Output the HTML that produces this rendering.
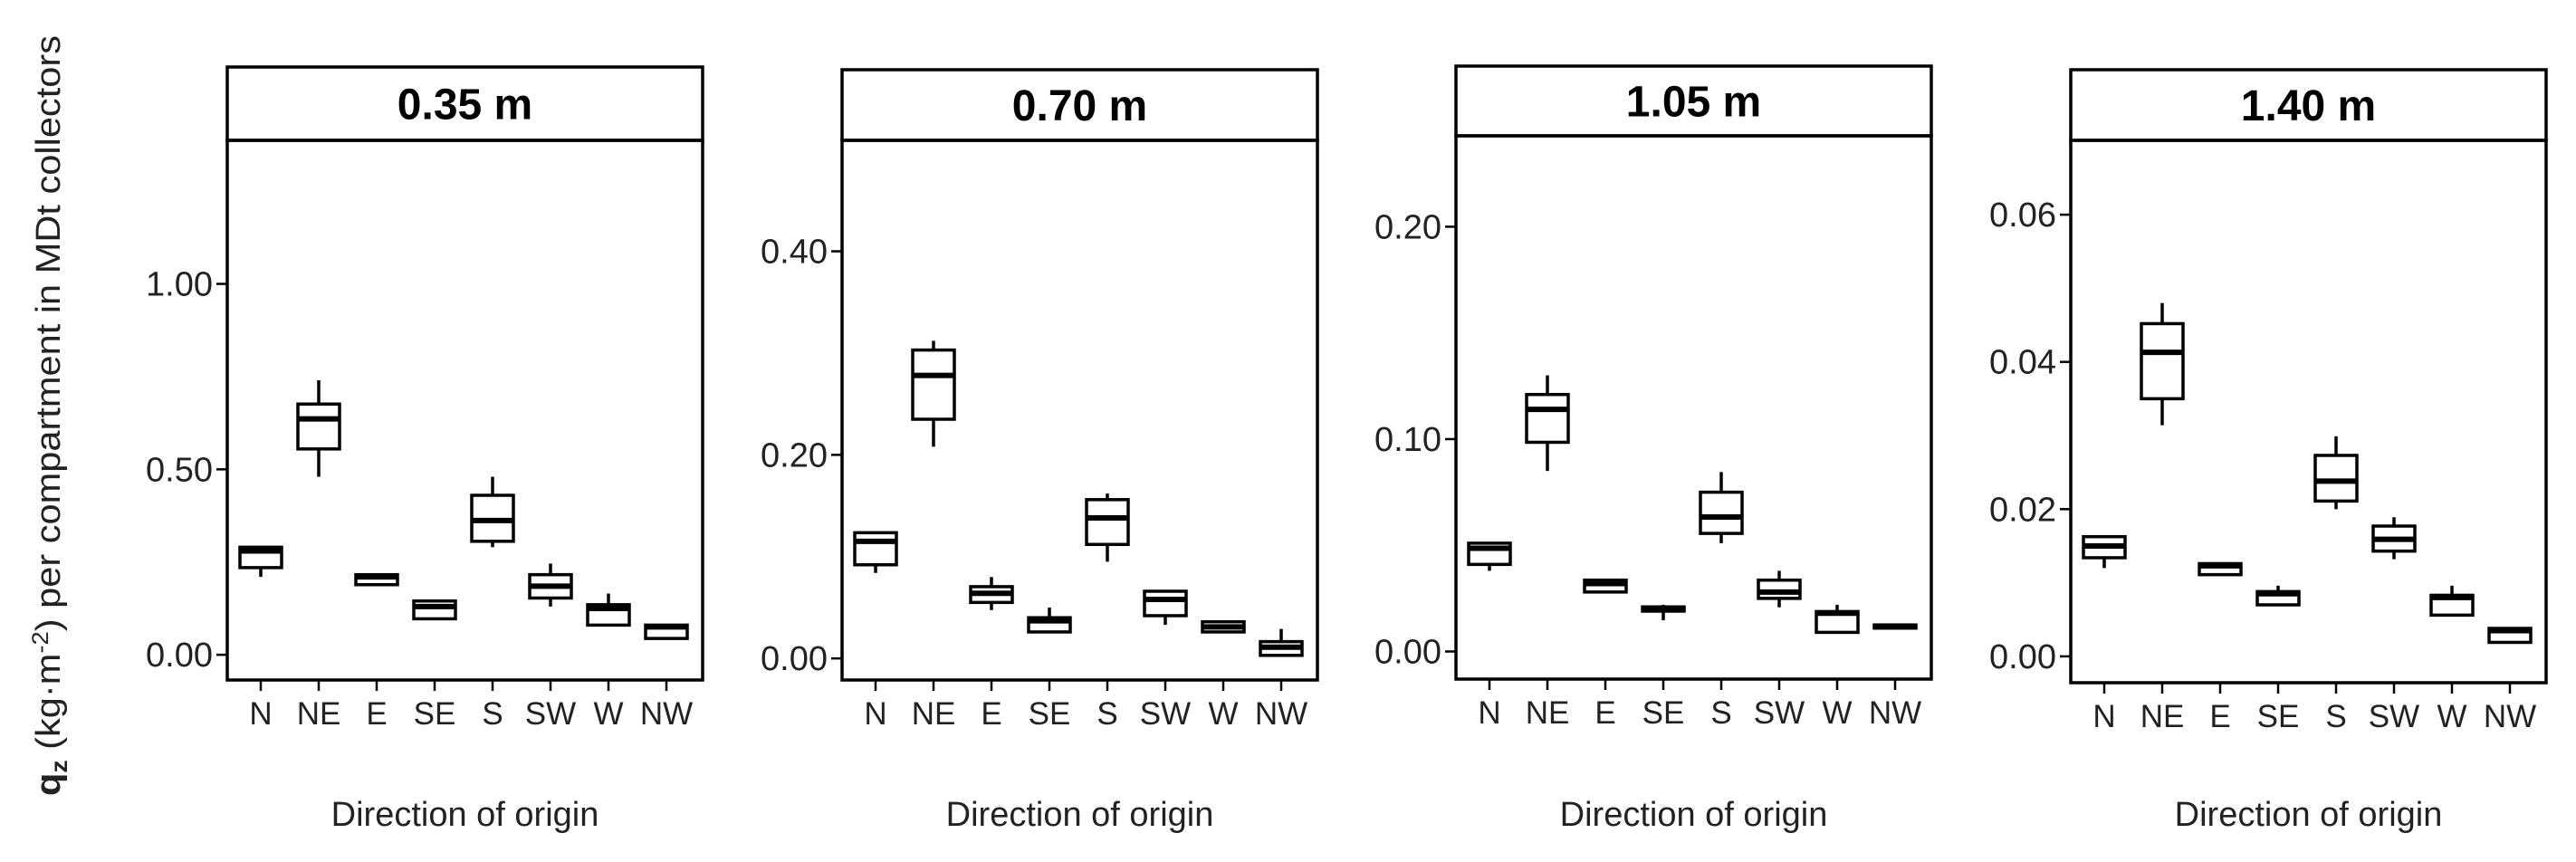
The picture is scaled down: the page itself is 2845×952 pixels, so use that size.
<!DOCTYPE html>
<html><head><meta charset="utf-8">
<style>
html,body{margin:0;padding:0;background:#fff;}
svg{display:block;font-family:"Liberation Sans","DejaVu Sans",sans-serif;}
</style></head>
<body>
<svg id="chart" width="2845" height="952" viewBox="0 0 2845 952" xmlns="http://www.w3.org/2000/svg">
<text transform="translate(66,459) rotate(-90)" text-anchor="middle" font-size="38" fill="#222" textLength="840" lengthAdjust="spacingAndGlyphs"><tspan font-weight="bold">q</tspan><tspan font-weight="bold" font-size="26" dy="8">z</tspan><tspan dy="-8"> (kg·m</tspan><tspan font-size="25" dy="-13">-2</tspan><tspan dy="13">) per compartment in MDt collectors</tspan></text>
</svg>
<script>
const categories = ["N","NE","E","SE","S","SW","W","NW"];
const panelTitles = ["0.35 m","0.70 m","1.05 m","1.40 m"];
const yDomains = [[-0.068,1.387],[-0.0212,0.509],[-0.013,0.2428],[-0.00358,0.0701]];
const tickValues = [[0,0.5,1.0],[0,0.2,0.4],[0,0.1,0.2],[0,0.02,0.04,0.06]];
const tickLabels = [["0.00","0.50","1.00"],["0.00","0.20","0.40"],["0.00","0.10","0.20"],["0.00","0.02","0.04","0.06"]];
// each box: [whiskerLow, q1, median, q3, whiskerHigh]
const data035 = [[0.21,0.235,0.28,0.29,0.29],[0.48,0.555,0.636,0.676,0.74],[0.189,0.189,0.21,0.216,0.216],[0.097,0.097,0.13,0.145,0.145],[0.29,0.306,0.362,0.43,0.48],[0.13,0.153,0.185,0.216,0.246],[0.08,0.08,0.125,0.135,0.165],[0.044,0.044,0.075,0.08,0.08]];
const data070 = [[0.084,0.092,0.115,0.1235,0.1235],[0.208,0.235,0.278,0.303,0.312],[0.0475,0.055,0.064,0.0705,0.08],[0.026,0.026,0.037,0.04,0.05],[0.095,0.112,0.138,0.156,0.162],[0.033,0.042,0.058,0.066,0.066],[0.026,0.026,0.031,0.036,0.036],[0.003,0.003,0.011,0.0165,0.029]];
const data105 = [[0.038,0.041,0.0486,0.051,0.051],[0.085,0.0985,0.114,0.121,0.130],[0.028,0.028,0.032,0.0336,0.0336],[0.0147,0.019,0.020,0.021,0.022],[0.051,0.0556,0.0633,0.075,0.0845],[0.0208,0.025,0.028,0.0336,0.038],[0.009,0.009,0.018,0.0188,0.022],[0.011,0.011,0.0116,0.0125,0.0125]];
const data140 = [[0.012,0.0134,0.0150,0.01626,0.01626],[0.0314,0.035,0.0413,0.0452,0.048],[0.0111,0.0111,0.0123,0.0126,0.0126],[0.007,0.007,0.0085,0.0088,0.0096],[0.020,0.0211,0.0238,0.0273,0.0299],[0.0132,0.0143,0.0159,0.0177,0.0189],[0.0056,0.0056,0.0080,0.0083,0.0096],[0.0019,0.0019,0.0035,0.0038,0.0038]];
const seriesData = [data035,data070,data105,data140];

const NS="http://www.w3.org/2000/svg";
const svg=document.getElementById('chart');
const layout=[{l:251,t:74,h:155,b:751},{l:930,t:77,h:155,b:751},{l:1608,t:73,h:150,b:750},{l:2287,t:77,h:155,b:754}];
const PW=525;
function mk(tag,attrs,parent){const e=document.createElementNS(NS,tag);for(const k in attrs)e.setAttribute(k,attrs[k]);(parent||svg).appendChild(e);return e;}

layout.forEach((L,p)=>{
  const g=mk('g',{});
  
  
  const [d0,d1]=yDomains[p];
  const y=v=>L.b-(v-d0)/(d1-d0)*(L.b-L.h);
  const x=i=>L.l+37+i*64;
  const hdr=mk('rect',{x:L.l,y:L.t,width:PW,height:L.h-L.t,fill:'#fff',stroke:'#000','stroke-width':3.5},g);
  
  
  const tt=mk('text',{x:L.l+PW/2,y:(L.t+L.h)/2+17,'text-anchor':'middle','font-size':48,'font-weight':'bold',fill:'#000'},g);
  tt.textContent=panelTitles[p];
  
  
  const fr=mk('rect',{x:L.l,y:L.h,width:PW,height:L.b-L.h,fill:'none',stroke:'#000','stroke-width':3.5},g);
  
  
  tickValues[p].forEach((v,i)=>{
    mk('line',{x1:L.l-12,x2:L.l,y1:y(v),y2:y(v),stroke:'#000','stroke-width':2.5},g);
    const t=mk('text',{x:L.l-16,y:y(v)+13,'text-anchor':'end','font-size':38,fill:'#222'},g);
    t.textContent=tickLabels[p][i];
    
    
  });
  categories.forEach((c,i)=>{
    mk('line',{x1:x(i),x2:x(i),y1:L.b,y2:L.b+12,stroke:'#000','stroke-width':2.5},g);
    const t=mk('text',{x:x(i),y:L.b+49,'text-anchor':'middle','font-size':35,fill:'#222'},g);
    t.textContent=c;
    
    
    const d=seriesData[p][i];
    const bg=mk('g',{},g);
    
    
    mk('line',{x1:x(i),x2:x(i),y1:y(d[0]),y2:y(d[1]),stroke:'#000','stroke-width':3.5},bg);
    mk('line',{x1:x(i),x2:x(i),y1:y(d[3]),y2:y(d[4]),stroke:'#000','stroke-width':3.5},bg);
    mk('rect',{x:x(i)-23,y:y(d[3]),width:46,height:Math.max(1,y(d[1])-y(d[3])),fill:'#fff',stroke:'#000','stroke-width':3.5},bg);
    mk('line',{x1:x(i)-23,x2:x(i)+23,y1:y(d[2]),y2:y(d[2]),stroke:'#000','stroke-width':6},bg);
  });
  const xt=mk('text',{x:L.l+PW/2,y:912,'text-anchor':'middle','font-size':38,fill:'#222'},g);
  xt.textContent='Direction of origin';
  
  
});
</script>
</body></html>
